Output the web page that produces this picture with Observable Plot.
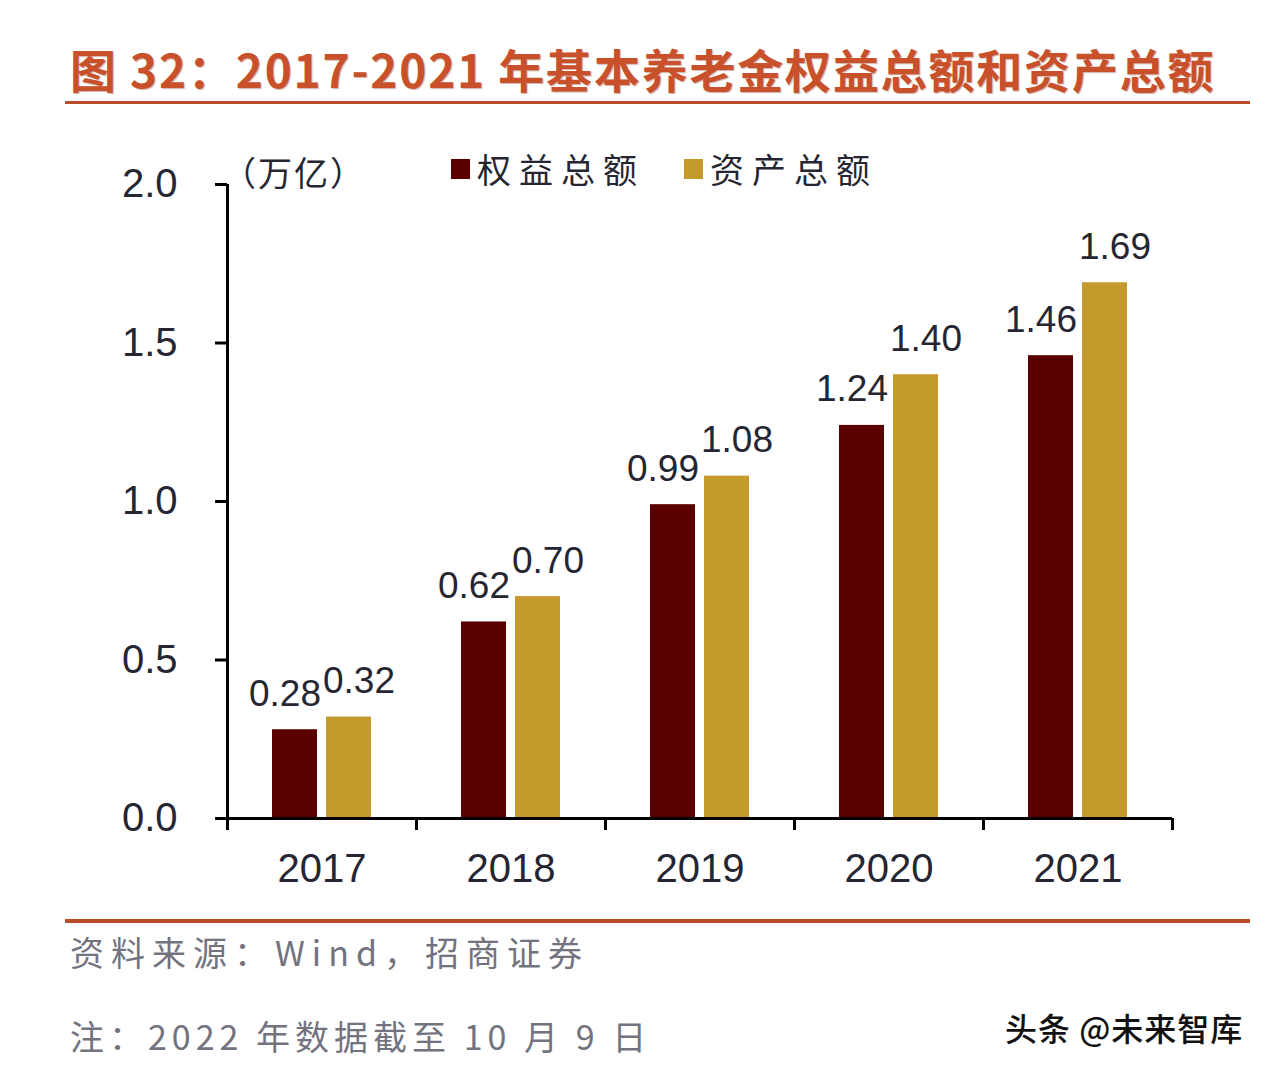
<!DOCTYPE html>
<html>
<head>
<meta charset="utf-8">
<script src="https://cdn.jsdelivr.net/npm/d3@7"></script>
<script src="https://cdn.jsdelivr.net/npm/@observablehq/plot@0.6"></script>
<style>
  body { margin: 0; background: #fff; }
  #page { position: relative; width: 1268px; height: 1072px; overflow: hidden; background: #fff; }
  .abs { position: absolute; white-space: nowrap; }
  #title { left: 70px; top: 45px; font: 700 46px/46px "Noto Sans CJK SC", sans-serif; color: #C8502A; letter-spacing: 1.8px; text-shadow: 1px 1px 1px rgba(120,40,20,0.35); }
  .rule { position: absolute; left: 65px; width: 1185px; background: #BA4B2B; }
  #chart { position: absolute; left: 0; top: 140px; }
  .cn { font-family: "Noto Sans CJK SC", sans-serif; color: #262633; }
  .sw { position: absolute; width: 19px; height: 20px; }
  .foot { font: 400 34px/40px "Noto Sans CJK SC", sans-serif; color: #73737f; letter-spacing: 5px; }
</style>
</head>
<body>
<div id="page">
  <div id="title" class="abs"></div>
  <div class="rule" style="top:101px;height:3px;"></div>
  <div id="chart"></div>
  <div id="unit" class="abs cn" style="left:222px;top:152px;font-size:34px;line-height:40px;letter-spacing:2px;"></div>
  <div id="legend"></div>
  <div class="rule" style="top:919px;height:4px;"></div>
  <div id="source" class="abs foot" style="left:70px;top:932px;letter-spacing:7px;"></div>
  <div id="note" class="abs foot" style="left:70px;top:1016px;"></div>
  <div id="mark" class="abs" style="left:1005px;top:1007px;font:500 32px/40px 'Noto Sans CJK SC',sans-serif;color:#111;letter-spacing:1px;"></div>
</div>
<script>
const titleText = "图 32：2017-2021 年基本养老金权益总额和资产总额";
const unitText = "（万亿）";
const sourceText = "资料来源：Wind，招商证券";
const noteText = "注：2022 年数据截至 10 月 9 日";
const markText = "头条 @未来智库";

const years = ["2017", "2018", "2019", "2020", "2021"];
const seriesNames = ["权益总额", "资产总额"];
const equity = [0.28, 0.62, 0.99, 1.24, 1.46];
const assets = [0.32, 0.70, 1.08, 1.40, 1.69];
const seriesColors = ["#5A0000", "#C49A2C"];
const yTicks = [0, 0.5, 1.0, 1.5, 2.0];

document.getElementById("title").textContent = titleText;
document.getElementById("unit").textContent = unitText;
document.getElementById("source").textContent = sourceText;
document.getElementById("note").textContent = noteText;
document.getElementById("mark").textContent = markText;

// legend
const legend = document.getElementById("legend");
const legendPos = [451, 684];
seriesNames.forEach((name, k) => {
  const sw = document.createElement("div");
  sw.className = "sw";
  sw.style.left = legendPos[k] + "px";
  sw.style.top = "159px";
  sw.style.background = seriesColors[k];
  legend.appendChild(sw);
  const t = document.createElement("div");
  t.className = "abs cn";
  t.style.left = (legendPos[k] + 26) + "px";
  t.style.top = "149px";
  t.style.fontSize = "34px";
  t.style.lineHeight = "40px";
  t.style.letterSpacing = "8px";
  t.textContent = name;
  legend.appendChild(t);
});

// rows
const rows = [];
years.forEach((y, i) => {
  rows.push({year: y, i, series: seriesNames[0], value: equity[i], side: -1});
  rows.push({year: y, i, series: seriesNames[1], value: assets[i], side: 1});
});

const barW = 45 / 189;   // bar width as fraction of a year band
const halfGap = 4.5 / 189;
const x1 = d => d.i + 0.5 + (d.side < 0 ? -(halfGap + barW) : halfGap);
const x2 = d => d.i + 0.5 + (d.side < 0 ? -halfGap : halfGap + barW);
const xc = d => (x1(d) + x2(d)) / 2;

const labelStyle = {y: "value", text: d => d.value.toFixed(2), dy: -24, lineAnchor: "bottom", fontSize: 37, fill: "#262633"};

const chart = Plot.plot({
  width: 1268,
  height: 750,
  marginLeft: 227,
  marginRight: 96,
  marginTop: 44,
  marginBottom: 72,
  style: {fontFamily: "'Liberation Sans', Arial, sans-serif", color: "#262633", background: "transparent"},
  x: {domain: [0, years.length], axis: null},
  y: {domain: [0, 2], axis: null},
  color: {domain: seriesNames, range: seriesColors},
  marks: [
    Plot.rectY(rows, {x1, x2, y1: 0, y2: "value", fill: "series"}),
    Plot.text(rows.filter(d => d.side < 0), {...labelStyle, x: xc, dx: -10}),
    Plot.text(rows.filter(d => d.side > 0), {...labelStyle, x: xc, dx: 10}),
    Plot.axisY({ticks: yTicks, tickSize: 12, tickPadding: 38, tickFormat: d3.format(".1f"), fontSize: 40, stroke: "#000", strokeWidth: 3, label: null}),
    Plot.axisX({ticks: d3.range(years.length + 1), tickSize: 12, tickFormat: () => "", stroke: "#000", strokeWidth: 3, label: null}),
    Plot.axisX({ticks: years.map((y, i) => i + 0.5), tickSize: 0, tickPadding: 35, tickFormat: v => years[Math.floor(v)], fontSize: 40, label: null}),
    Plot.ruleX([0], {stroke: "#000", strokeWidth: 3}),
    Plot.ruleY([0], {stroke: "#000", strokeWidth: 3})
  ]
});
document.getElementById("chart").appendChild(chart);
</script>
</body>
</html>
